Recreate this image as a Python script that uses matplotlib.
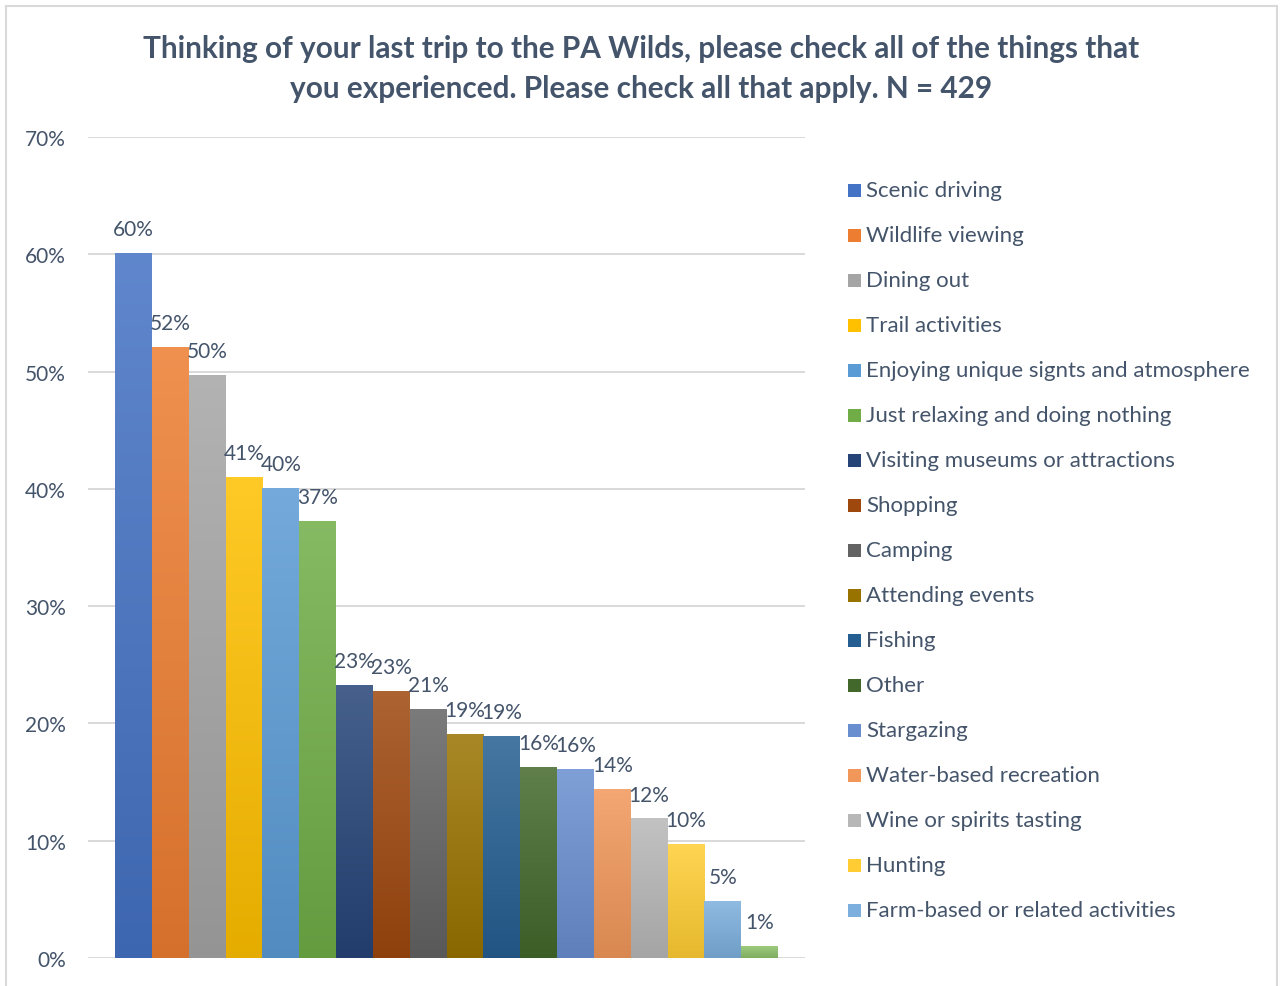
import numpy as np
import matplotlib
matplotlib.use("Agg")
import matplotlib.pyplot as plt
from matplotlib.patches import Rectangle
from matplotlib.lines import Line2D
from matplotlib.colors import to_rgb

plt.rcParams['font.family'] = ['Lato', 'DejaVu Sans']

# Survey responses (share of respondents), one bar per activity
activities = [
    "Scenic driving", "Wildlife viewing", "Dining out", "Trail activities",
    "Enjoying unique signts and atmosphere", "Just relaxing and doing nothing",
    "Visiting museums or attractions", "Shopping", "Camping", "Attending events",
    "Fishing", "Other", "Stargazing", "Water-based recreation",
    "Wine or spirits tasting", "Hunting", "Farm-based or related activities",
]
shares = [60.1, 52.1, 49.7, 41.0, 40.1, 37.3, 23.3, 22.8, 21.2, 19.1,
          18.9, 16.3, 16.1, 14.4, 11.9, 9.7, 4.9, 1.0]
bar_colors = [
    "#4472C4", "#ED7D31", "#A5A5A5", "#FFC000", "#5B9BD5", "#70AD47",
    "#264478", "#9E480E", "#636363", "#997300", "#255E91", "#43682B",
    "#698ED0", "#F1975A", "#B7B7B7", "#FFCD33", "#7CAFDD", "#8CC168",
]
y_ticks = [0, 10, 20, 30, 40, 50, 60, 70]
title = ("Thinking of your last trip to the PA Wilds, please check all of the things that\n"
         "you experienced. Please check all that apply. N = 429")

TEXT = "#44546A"
GRID = "#D9D9D9"

W, H = 1282, 987
fig = plt.figure(figsize=(W / 100, H / 100), dpi=100)
fig.patch.set_facecolor("white")

# plot area in pixel coordinates
left, right, top, bottom = 88, 805, 138, 959
ax = fig.add_axes([left / W, 1 - bottom / H, (right - left) / W, (bottom - top) / H])

n = len(shares)
xpos = np.arange(n)
bars = ax.bar(xpos, shares, width=1.0, color="none", edgecolor="none", zorder=2)


def shade(c, f):
    r = np.array(to_rgb(c))
    return r * f


def tint(c, f):
    r = np.array(to_rgb(c))
    return r + (1 - r) * f


# vertical gradient fill, lighter at the top of each bar
for patch, col in zip(bars.patches, bar_colors):
    x0, w, h = patch.get_x(), patch.get_width(), patch.get_height()
    t = np.linspace(0, 1, 64)[:, None]
    c_top = tint(col, 0.15)
    c_bot = shade(col, 0.9)
    grad = c_top[None, :] * (1 - t) + c_bot[None, :] * t
    img = ax.imshow(grad[:, None, :], extent=[x0, x0 + w, 0, h], aspect="auto",
                    origin="upper", zorder=2, interpolation="bilinear")
    img.set_clip_path(patch)

for xi, v in zip(xpos, shares):
    ax.annotate(f"{v:.0f}%", (xi, v), xytext=(0, 10), textcoords="offset points",
                ha="center", va="bottom", fontsize=15, color=TEXT, zorder=4)

pad = 27 / ((778 - 115) / n)
ax.set_xlim(-0.5 - pad, n - 0.5 + pad)
ax.set_ylim(0, 70)
ax.set_yticks(y_ticks)
ax.set_yticklabels([f"{t}%" for t in y_ticks], fontsize=15, color=TEXT)
ax.set_xticks([])
ax.tick_params(axis="y", length=0, pad=16)
ax.yaxis.grid(True, color=GRID, linewidth=1.4, zorder=0)
ax.set_axisbelow(True)
for s in ax.spines.values():
    s.set_visible(False)

fig.text(641 / W, 1 - 69 / H, title, ha="center", va="center", fontsize=21.4,
         fontweight="bold", color=TEXT, linespacing=1.55)

# legend
for i, (name, col) in enumerate(zip(activities, bar_colors)):
    yc = 191 + 45 * i
    fig.add_artist(Rectangle((848 / W, 1 - (yc + 6.5) / H), 13 / W, 13 / H,
                             transform=fig.transFigure, facecolor=col, edgecolor="none"))
    fig.text(866 / W, 1 - yc / H, name, ha="left", va="center", fontsize=16, color=TEXT)

# chart frame
for xs, ys in [((6, 6), (7, 987)), ((6, 1277), (7, 7)), ((1277, 1277), (7, 987))]:
    fig.add_artist(Line2D([x / W for x in xs], [1 - y / H for y in ys],
                          transform=fig.transFigure, color=GRID, linewidth=1.5))

fig.savefig("out.png", dpi=100, facecolor="white")
